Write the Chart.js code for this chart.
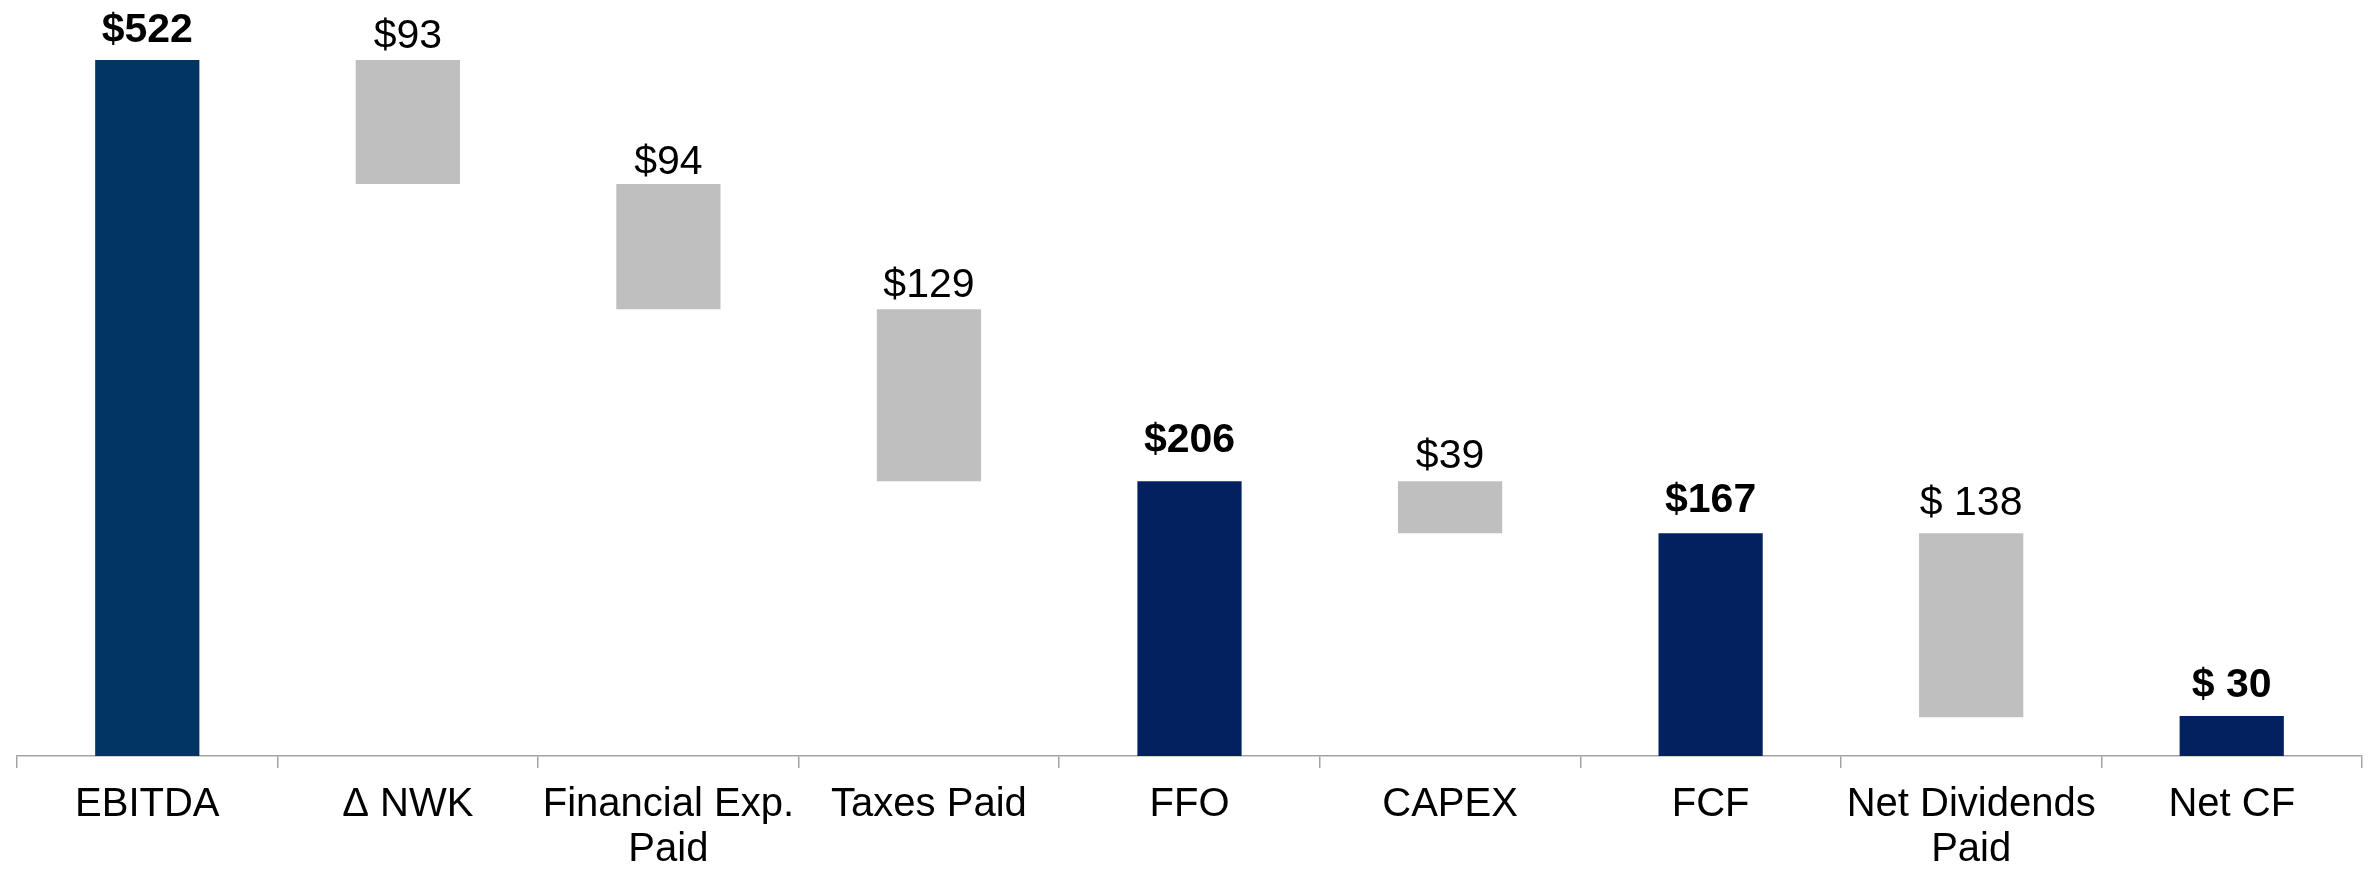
<!DOCTYPE html>
<html>
<head>
<meta charset="utf-8">
<script src="https://cdn.jsdelivr.net/npm/chart.js@4/dist/chart.umd.min.js"></script>
<style>
  html, body { margin: 0; padding: 0; background: #ffffff; }
  #wrap { width: 2376px; height: 869px; }
</style>
</head>
<body>
<div id="wrap"><canvas id="c" width="2376" height="869"></canvas></div>
<script>
// ---- data ----
const categories = ['EBITDA', 'Δ NWK', ['Financial Exp.', 'Paid'], 'Taxes Paid', 'FFO', 'CAPEX', 'FCF', ['Net Dividends', 'Paid'], 'Net CF'];
const amounts = [522, -93, -94, -129, 206, -39, 167, -138, 30];
const isTotal = [true, false, false, false, true, false, true, false, true];
const valueLabels = ['$522', '$93', '$94', '$129', '$206', '$39', '$167', '$ 138', '$ 30'];

// ---- styles ----
const totalColors = ['#023464', '#023464', '#023464', '#023464', '#03205F', '#03205F', '#03205F', '#03205F', '#03205F'];
const stepColor = '#BFBFBF';
const axisColor = '#A3A3A3';
const labelGaps = [18, 12, 10, 12, 29, 13, 21, 18, 19]; // px between bar top and label baseline

// build floating ranges
const ranges = [];
let running = 0;
amounts.forEach((v, i) => {
  if (isTotal[i]) { ranges.push([0, v]); running = v; }
  else { ranges.push([running + v, running]); running += v; }
});
const colors = amounts.map((v, i) => isTotal[i] ? totalColors[i] : stepColor);

const labelPlugin = {
  id: 'valueLabels',
  afterDatasetsDraw(chart) {
    const ctx = chart.ctx;
    const meta = chart.getDatasetMeta(0);
    ctx.save();
    ctx.textAlign = 'center';
    ctx.textBaseline = 'alphabetic';
    ctx.fillStyle = '#000000';
    meta.data.forEach((el, i) => {
      const top = Math.min(el.y, el.base);
      ctx.font = (isTotal[i] ? 'bold ' : '') + '41px "Liberation Sans", Arial, sans-serif';
      ctx.fillText(valueLabels[i], el.x, top - labelGaps[i]);
    });
    ctx.restore();
  }
};

new Chart(document.getElementById('c'), {
  type: 'bar',
  data: {
    labels: categories,
    datasets: [{
      data: ranges,
      backgroundColor: colors,
      borderWidth: 0,
      barPercentage: 0.4,
      categoryPercentage: 1.0
    }]
  },
  options: {
    responsive: false,
    animation: false,
    devicePixelRatio: 1,
    layout: { padding: { left: 17, right: 14, top: 0, bottom: 0 } },
    plugins: { legend: { display: false }, tooltip: { enabled: false } },
    scales: {
      x: {
        offset: true,
        grid: { offset: true, drawOnChartArea: false, drawTicks: true, tickLength: 12, color: axisColor, lineWidth: 1.5 },
        border: { display: true, color: axisColor, width: 1.5 },
        ticks: {
          color: '#000000',
          padding: 15,
          maxRotation: 0,
          autoSkip: false,
          font: { family: '"Liberation Sans", Arial, sans-serif', size: 40, lineHeight: 1.12 }
        },
        afterFit(scale) { scale.height = 113; }
      },
      y: {
        display: false,
        min: 0,
        max: 567
      }
    }
  },
  plugins: [labelPlugin]
});
</script>
</body>
</html>
